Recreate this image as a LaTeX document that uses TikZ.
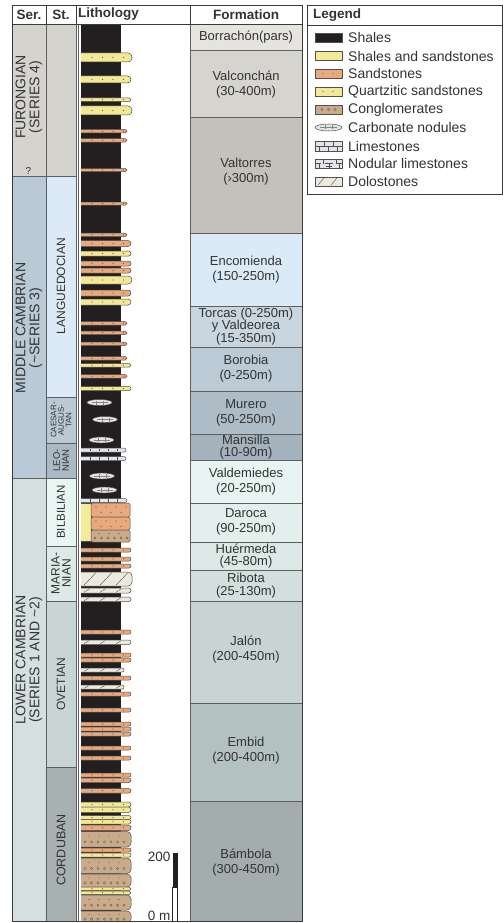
\documentclass[tikz,border=0pt]{standalone}
\usepackage{fontspec}
\setmainfont{Liberation Sans}
\definecolor{shale}{HTML}{231F20}
\definecolor{sand}{HTML}{E8A97C}
\definecolor{quartz}{HTML}{F2E896}
\definecolor{shsand}{HTML}{F3EA9C}
\definecolor{congl}{HTML}{C9AA8B}
\definecolor{dolo}{HTML}{ECEADF}
\definecolor{lime}{HTML}{E2E5EC}
\definecolor{nodc}{HTML}{E4E4E4}
\definecolor{bedline}{HTML}{505050}
\definecolor{dotc}{HTML}{6A5A4A}
\definecolor{framec}{HTML}{3A3A3A}
\definecolor{cellline}{HTML}{5E5E5E}
\definecolor{txt}{HTML}{333333}
\definecolor{serF}{HTML}{D5D3CD}
\definecolor{serM}{HTML}{B9C9D5}
\definecolor{serL}{HTML}{D4E0DF}
\definecolor{stLa}{HTML}{DBEAF6}
\definecolor{stCa}{HTML}{BAC9D4}
\definecolor{stLe}{HTML}{A9B9C5}
\definecolor{stBi}{HTML}{E9F5F2}
\definecolor{stMa}{HTML}{DDE9E7}
\definecolor{stOv}{HTML}{C9D5D5}
\definecolor{stCo}{HTML}{A7B1B1}
\definecolor{fBo}{HTML}{E6E4DE}
\definecolor{fVa}{HTML}{D6D4CE}
\definecolor{fVt}{HTML}{C3C1BA}
\definecolor{fEn}{HTML}{DBEAF7}
\definecolor{fTo}{HTML}{C9D6E0}
\definecolor{fBr}{HTML}{BCCAD5}
\definecolor{fMu}{HTML}{ADBCC7}
\definecolor{fMa}{HTML}{A3B2BD}
\definecolor{fVd}{HTML}{E7F4F1}
\definecolor{fDa}{HTML}{E2EFEC}
\definecolor{fHu}{HTML}{DCE8E6}
\definecolor{fRi}{HTML}{D2DFDD}
\definecolor{fJa}{HTML}{C8D4D4}
\definecolor{fEm}{HTML}{B4C1C1}
\definecolor{fBa}{HTML}{A3ADAD}
% bed shapes
\newcommand\shp[4]{%
  \pgfmathsetmacro\rr{min(4,(#3-#2)/2)}%
  \filldraw[fill=#1, draw=bedline, line width=0.5pt, rounded corners=\rr pt] (74,#2) rectangle (#4,#3);}
\newcommand\dotrow[1]{\foreach \xx in {92,102.5,113,123.5}{\fill[dotc] (\xx,#1) circle (0.6);}}
\newcommand\sbed[3]{\shp{sand}{#1}{#2}{#3}\pgfmathsetmacro\mm{(#1+#2)/2}\dotrow{\mm}}
\newcommand\qbed[3]{\shp{quartz}{#1}{#2}{#3}\pgfmathsetmacro\mm{(#1+#2)/2}\dotrow{\mm}}
\newcommand\cbed[3]{\shp{congl}{#1}{#2}{#3}%
  \pgfmathsetmacro\ma{#1+0.3*(#2-#1)}\pgfmathsetmacro\mb{#1+0.68*(#2-#1)}%
  \foreach \xx in {89,99,109,119}{\fill[dotc] (\xx,\ma) circle (0.55);}%
  \foreach \xx in {85,91.5,98,104.5,111,117.5,124}{\draw[dotc, line width=0.35pt] (\xx,\mb) circle (1.2);}}
\newcommand\dbed[3]{\shp{dolo}{#1}{#2}{#3}%
  \pgfmathsetmacro\dx{2+0.7*(#2-#1)}%
  \foreach \xx in {84,100,116}{\draw[bedline, line width=0.4pt] (\xx,#2-0.7) -- ++(\dx,-#2+#1+1.4);}}
\newcommand\nbed[3]{\shp{lime}{#1}{#2}{#3}%
  \foreach \xx in {90,99,108,117}{\draw[bedline, line width=0.35pt] (\xx,#1+0.6) -- (\xx,#2-0.6);}}
\newcommand\nodl[2]{\filldraw[fill=nodc, draw=bedline, line width=0.4pt] (#1,#2) ellipse (12.5 and 3);
  \draw[bedline!70, line width=0.35pt] (#1-8,#2) -- (#1+8,#2) (#1-3,#2-2) -- (#1-3,#2+2) (#1+4,#2-2) -- (#1+4,#2+2);}
\begin{document}
\begin{tikzpicture}[x=1pt,y=-1pt,
  cell/.style={draw=cellline, line width=0.6pt},
  sertext/.style={rotate=90, align=center, text=txt, inner sep=0pt, font=\fontsize{14}{14}\selectfont},
  sttext/.style={rotate=90, align=center, text=txt, inner sep=0pt, font=\fontsize{12}{12}\selectfont},
  ftext/.style={align=center, text=txt, inner sep=0pt, font=\fontsize{13}{15}\selectfont},
  hdr/.style={text=txt, inner sep=0pt, font=\bfseries\fontsize{13.5}{14}\selectfont},
  legtext/.style={anchor=west, text=txt, inner sep=0pt, font=\fontsize{14}{14}\selectfont},
  swatch/.style={draw=bedline, line width=0.5pt}]
\useasboundingbox (0,0) rectangle (503,923);
\fill[white] (0,0) rectangle (503,923);
% Series column
\filldraw[cell, fill=serF] (12,24) rectangle (46,176);
\filldraw[cell, fill=serM] (12,176) rectangle (46,478);
\filldraw[cell, fill=serL] (12,478) rectangle (46,921);
% Stage column
\filldraw[cell, fill=serF] (46,24) rectangle (76,176);
\filldraw[cell, fill=stLa] (46,176) rectangle (76,397);
\filldraw[cell, fill=stCa] (46,397) rectangle (76,443);
\filldraw[cell, fill=stLe] (46,443) rectangle (76,478);
\filldraw[cell, fill=stBi] (46,478) rectangle (76,546);
\filldraw[cell, fill=stMa] (46,546) rectangle (76,601);
\filldraw[cell, fill=stOv] (46,601) rectangle (76,767);
\filldraw[cell, fill=stCo] (46,767) rectangle (76,921);
% Formation column
\filldraw[cell, fill=fBo] (190,24) rectangle (302,50);
\filldraw[cell, fill=fVa] (190,50) rectangle (302,117);
\filldraw[cell, fill=fVt] (190,117) rectangle (302,233);
\filldraw[cell, fill=fEn] (190,233) rectangle (302,306);
\filldraw[cell, fill=fTo] (190,306) rectangle (302,347);
\filldraw[cell, fill=fBr] (190,347) rectangle (302,391);
\filldraw[cell, fill=fMu] (190,391) rectangle (302,434);
\filldraw[cell, fill=fMa] (190,434) rectangle (302,460);
\filldraw[cell, fill=fVd] (190,460) rectangle (302,503);
\filldraw[cell, fill=fDa] (190,503) rectangle (302,542);
\filldraw[cell, fill=fHu] (190,542) rectangle (302,570);
\filldraw[cell, fill=fRi] (190,570) rectangle (302,601);
\filldraw[cell, fill=fJa] (190,601) rectangle (302,703);
\filldraw[cell, fill=fEm] (190,703) rectangle (302,801);
\filldraw[cell, fill=fBa] (190,801) rectangle (302,921);
% lithology column
\draw[cellline, line width=0.5pt] (78,24) -- (78,921);
\fill[shale] (81,25) rectangle (121,921);
\begin{scope}
\clip (81,24) rectangle (140,921);
\qbed{53}{62}{132}
\qbed{76}{83}{131}
\qbed{98}{101.5}{131}
\qbed{106}{115}{132}
\sbed{129.5}{133}{127}
\sbed{138.5}{142}{127}
\sbed{168.5}{171.5}{127}
\sbed{202}{205}{127}
\sbed{233}{236.5}{127}
\sbed{240.5}{246.5}{131}
\qbed{251}{256}{131}
\sbed{261}{266}{131}
\sbed{268}{273}{131}
\qbed{276}{284}{132}
\sbed{290}{296}{131}
\qbed{299}{305}{131}
\sbed{321.5}{325}{127}
\sbed{331}{334.5}{127}
\sbed{342}{345.5}{127}
\sbed{356.5}{360}{127}
\qbed{363.5}{367}{131}
\sbed{374.5}{378}{127}
\qbed{386.5}{390.5}{131}
\nodl{99.5}{402.5}
\nodl{105}{419.5}
\nodl{101.5}{440}
\nbed{448}{452}{126}
\nbed{456.5}{460.5}{126}
\nodl{102}{476}
\nodl{104.5}{490}
\nbed{498.5}{502.5}{127}
% block
\filldraw[fill=shsand, draw=bedline, line width=0.5pt] (78,503) rectangle (91,541.5);
\filldraw[fill=sand, draw=bedline, line width=0.5pt, rounded corners=1.5pt] (91,503) rectangle (130,517);
\filldraw[fill=sand, draw=bedline, line width=0.5pt, rounded corners=1.5pt] (91,517) rectangle (130,530);
\filldraw[fill=congl, draw=bedline, line width=0.5pt, rounded corners=1.5pt] (91,530) rectangle (130,542);
\foreach \yy in {503,517}{
  \foreach \xx in {96,106,116,126}{\fill[dotc] (\xx,\yy+4) circle (0.6);}
  \foreach \xx in {101,111,121}{\fill[dotc] (\xx,\yy+9.5) circle (0.6);}}
\foreach \xx in {99,109,119}{\fill[dotc] (\xx,533.5) circle (0.55);}
\foreach \xx in {95,101.5,108,114.5,121,127}{\draw[dotc, line width=0.35pt] (\xx,538) circle (1.2);}
\sbed{548}{552}{131}
\sbed{557}{561}{131}
\sbed{564}{568}{131}
\dbed{572}{586}{132}
\dbed{588}{593}{131}
\dbed{597}{601.5}{131}
\sbed{630}{634}{131}
\dbed{640}{644.5}{131}
\sbed{653}{657}{131}
\sbed{658}{662}{131}
\dbed{668}{672}{124}
\sbed{676}{680}{131}
\dbed{685}{689}{124}
\sbed{692}{696}{131}
\sbed{708}{712}{131}
\sbed{722}{726}{131}
\sbed{727}{731}{131}
\sbed{732}{736}{131}
\sbed{746}{750}{131}
\sbed{756}{760}{131}
\sbed{773}{777}{131}
\sbed{778}{782.5}{131}
\sbed{788.5}{793}{131}
\qbed{802}{807}{131}
\qbed{807}{812.5}{131}
\qbed{815.5}{819.5}{131}
\qbed{819.5}{824}{131}
\sbed{825}{830.5}{131}
\cbed{831.5}{847}{131}
\sbed{848}{852}{131}
\qbed{853}{857}{131}
\cbed{858}{873.5}{131}
\cbed{874}{887}{131}
\qbed{887}{890.5}{131}
\qbed{891}{894.5}{131}
\cbed{895}{910}{131}
\cbed{911}{923}{131}
\end{scope}
% scale bar
\fill[shale] (172.5,853) rectangle (177.5,887);
\filldraw[fill=white, draw=shale, line width=0.6pt] (172.5,887) rectangle (177.5,921);
\node[anchor=east, text=txt, inner sep=0pt, font=\fontsize{13.5}{14}\selectfont] (s200) at (170.5,857) {200};
\node[anchor=east, text=txt, inner sep=0pt, font=\fontsize{13.5}{14}\selectfont] (s0) at (170.5,915.5) {0 m};
% frame and header
\draw[framec, line width=0.9pt] (12,5) rectangle (302,921);
\draw[framec, line width=0.8pt] (12,24) -- (302,24);
\draw[framec, line width=0.8pt] (46,5) -- (46,24) (76,5) -- (76,24) (190,5) -- (190,24);
\node[hdr] (hSer) at (29,14.5) {Ser.};
\node[hdr] (hSt) at (61,14.5) {St.};
\node[hdr, anchor=west] (hLith) at (78,14.5) {Lithology};
\node[hdr] (hForm) at (246,14.5) {Formation};
% series labels
\node[sertext] (tFur) at (29,97) {FURONGIAN\\(SERIES 4)};
\node[text=txt, inner sep=0pt, font=\fontsize{10}{10}\selectfont] (tQ) at (28.5,171) {?};
\node[sertext] (tMid) at (29,328) {MIDDLE CAMBRIAN\\(\textasciitilde SERIES 3)};
\node[sertext] (tLow) at (29,660) {LOWER CAMBRIAN\\(SERIES 1 AND \textasciitilde 2)};
% stage labels
\node[sttext] (tLan) at (61,286) {LANGUEDOCIAN};
\node[sttext, font=\fontsize{8}{7.5}\selectfont] (tCae) at (61,420) {CAESAR-\\AUGUS-\\TAN};
\node[sttext, font=\fontsize{9.5}{9}\selectfont] (tLeo) at (61,460.5) {LEO-\\NIAN};
\node[sttext, font=\fontsize{11.5}{12}\selectfont] (tBil) at (61,512) {BILBILIAN};
\node[sttext, font=\fontsize{12}{11}\selectfont] (tMar) at (61,573.5) {MARIA-\\NIAN};
\node[sttext] (tOve) at (61,684) {OVETIAN};
\node[sttext, font=\fontsize{12.5}{12}\selectfont] (tCor) at (61,850) {CORDUBAN};
% formation labels
\node[ftext] (fBor) at (246,37) {Borrachón(pars)};
\node[ftext] (fVal) at (246,85) {Valconchán\\(30-400m)};
\node[ftext] (fVat) at (246,172) {Valtorres\\(›300m)};
\node[ftext] (fEnc) at (246,270) {Encomienda\\(150-250m)};
\node[ftext, font=\fontsize{13}{12.3}\selectfont] (fTor) at (246,326.5) {Torcas (0-250m)\\y Valdeorea\\(15-350m)};
\node[ftext] (fBoro) at (246,369) {Borobia\\(0-250m)};
\node[ftext] (fMur) at (246,412.5) {Murero\\(50-250m)};
\node[ftext, font=\fontsize{13}{11.5}\selectfont] (fMan) at (246,447) {Mansilla\\(10-90m)};
\node[ftext] (fVald) at (246,482) {Valdemiedes\\(20-250m)};
\node[ftext] (fDar) at (246,522) {Daroca\\(90-250m)};
\node[ftext, font=\fontsize{13}{11.5}\selectfont] (fHue) at (246,556) {Huérmeda\\(45-80m)};
\node[ftext, font=\fontsize{13}{13}\selectfont] (fRib) at (246,586) {Ribota\\(25-130m)};
\node[ftext] (fJal) at (246,650) {Jalón\\(200-450m)};
\node[ftext] (fEmb) at (246,751) {Embid\\(200-400m)};
\node[ftext] (fBam) at (246,863) {Bámbola\\(300-450m)};
% legend
\draw[framec, line width=0.9pt] (307,5) rectangle (502,194);
\draw[framec, line width=0.8pt] (307,25) -- (502,25);
\node[hdr, anchor=west] (hLeg) at (313,15) {Legend};
\filldraw[swatch, fill=shale] (315,33) rectangle (342,42);
\filldraw[swatch, fill=shsand] (315,51.5) rectangle (342,60.5);
\filldraw[swatch, fill=sand] (315,69) rectangle (342,78);
\fill[dotc] (323,73.5) circle (0.6) (333,73.5) circle (0.6);
\filldraw[swatch, fill=quartz] (315,87) rectangle (342,96);
\fill[dotc] (323,91.5) circle (0.6) (333,91.5) circle (0.6);
\filldraw[swatch, fill=congl] (315,105) rectangle (342,114);
\foreach \xx in {322,328.5,335}{\draw[dotc, line width=0.35pt] (\xx,109.5) circle (1.1);}
\filldraw[fill=nodc, draw=bedline, line width=0.5pt] (328.5,127.5) ellipse (13.5 and 3.5);
\draw[bedline!70, line width=0.35pt] (320,127.5) -- (337,127.5) (325,125.5) -- (325,129.5) (332,125.5) -- (332,129.5);
\filldraw[swatch, fill=lime] (315,141) rectangle (342,151);
\draw[bedline, line width=0.4pt] (315,146) -- (342,146) (324,141) -- (324,146) (333,141) -- (333,146) (319.5,146) -- (319.5,151) (328.5,146) -- (328.5,151) (337.5,146) -- (337.5,151);
\filldraw[swatch, fill=lime] (315,159) rectangle (342,168.5);
\draw[bedline, line width=0.4pt] (315,163.5) -- (321,163.5) (325,163.5) -- (333,163.5) (337,163.5) -- (342,163.5) (323,159) -- (323,163.5) (319,163.5) -- (319,168.5) (329,163.5) -- (329,168.5) (339,163.5) -- (339,168.5) (326,166) -- (332,166) (336,159) -- (336,163.5);
\filldraw[swatch, fill=dolo] (315,177) rectangle (342,186);
\draw[bedline, line width=0.4pt] (318,185) -- (324,178) (331,185) -- (337,178);
\node[legtext] (lSh) at (348,37.5) {Shales};
\node[legtext] (lSS) at (348,56) {Shales and sandstones};
\node[legtext] (lSa) at (348,73.5) {Sandstones};
\node[legtext] (lQu) at (348,91.5) {Quartzitic sandstones};
\node[legtext] (lCo) at (348,109.5) {Conglomerates};
\node[legtext] (lCa) at (348,127.5) {Carbonate nodules};
\node[legtext] (lLi) at (348,146) {Limestones};
\node[legtext] (lNo) at (348,163.5) {Nodular limestones};
\node[legtext] (lDo) at (348,181.5) {Dolostones};
\end{tikzpicture}
\end{document}
